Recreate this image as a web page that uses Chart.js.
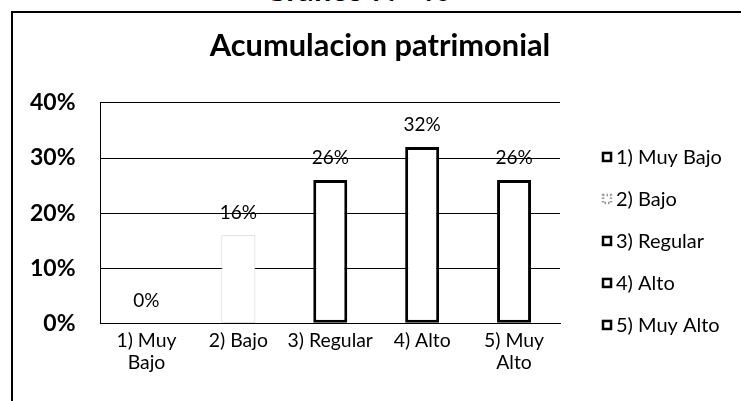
<!DOCTYPE html>
<html>
<head>
<meta charset="utf-8">
<script src="https://cdn.jsdelivr.net/npm/chart.js@4.4.1/dist/chart.umd.min.js"></script>
<style>
  html, body { margin: 0; padding: 0; background: #fff; }
  #wrap { position: relative; width: 741px; height: 401px; overflow: hidden; }
  #frame { position: absolute; left: 11px; top: 11px; width: 760px; height: 420px;
           border-left: 2px solid #000; border-top: 2px solid #000; }
  #num { position: absolute; top: -26px; left: 238px; width: 240px; text-align: center;
         font: bold 31px Lato, sans-serif; line-height: 31px; color: #000; }
  #myChart { position: absolute; left: 0; top: 0; }
</style>
</head>
<body>
<div id="wrap">
  <div id="num">Gráfico N° 40</div>
  <div id="frame"></div>
  <canvas id="myChart" width="741" height="401"></canvas>
</div>
<script>
const categories = ['1) Muy Bajo', '2) Bajo', '3) Regular', '4) Alto', '5) Muy Alto'];
const tickLines = [['1) Muy', 'Bajo'], ['2) Bajo'], ['3) Regular'], ['4) Alto'], ['5) Muy', 'Alto']];
const values = [0, 16, 26, 32, 26];
const yMax = 40;
const yStep = 10;

Chart.defaults.font.family = 'Lato, sans-serif';
Chart.defaults.color = '#000';

// % labels above the bars
const barLabels = {
  id: 'barLabels',
  afterDatasetsDraw(chart) {
    const ctx = chart.ctx;
    const meta = chart.getDatasetMeta(0);
    ctx.save();
    ctx.font = '19px Lato, sans-serif';
    ctx.fillStyle = '#000';
    ctx.textAlign = 'center';
    ctx.textBaseline = 'middle';
    meta.data.forEach((bar, i) => {
      ctx.fillText(values[i] + '%', bar.x, bar.y - 22);
    });
    ctx.restore();
  }
};

// legend with one entry per category, like excel does
const sideLegend = {
  id: 'sideLegend',
  afterDraw(chart) {
    const ctx = chart.ctx;
    const area = chart.chartArea;
    ctx.save();
    ctx.font = '20px Lato, sans-serif';
    ctx.textBaseline = 'middle';
    ctx.fillStyle = '#000';
    categories.forEach((name, i) => {
      const x = area.right + 42;
      const y = area.top + 54 + i * 42;
      ctx.lineWidth = 2.5;
      if (i === 1) {
        ctx.strokeStyle = '#999';
        ctx.setLineDash([1.5, 2]);
      } else {
        ctx.strokeStyle = '#000';
        ctx.setLineDash([]);
      }
      ctx.strokeRect(x + 1, y - 4, 8, 8);
      ctx.setLineDash([]);
      ctx.fillText(name, x + 14, y + 1);
    });
    ctx.restore();
  }
};

const ctx = document.getElementById('myChart');

new Chart(ctx, {
  type: 'bar',
  data: {
    labels: tickLines,
    datasets: [{
      label: 'Acumulacion patrimonial',
      data: values,
      backgroundColor: '#fff',
      borderColor: ['#000', '#cfcfcf', '#000', '#000', '#000'],
      borderWidth: [3, 1, 3, 3, 3],
      borderSkipped: false,
      categoryPercentage: 1,
      barPercentage: 0.37
    }]
  },
  options: {
    responsive: false,
    animation: false,
    // right padding < 0 so the title sits centred like in the original
    layout: { padding: { left: 5, right: -14, top: 20, bottom: 21 } },
    plugins: {
      legend: { display: false },
      tooltip: { enabled: false },
      title: {
        display: true,
        text: 'Acumulacion patrimonial',
        font: { size: 30.8, weight: 'bold' },
        color: '#000',
        padding: { top: 8, bottom: 38 }
      }
    },
    scales: {
      x: {
        grid: { display: false, drawTicks: false },
        border: { display: true, color: '#000', width: 1 },
        ticks: { font: { size: 19.4, lineHeight: 1.1 }, padding: 7, maxRotation: 0 }
      },
      y: {
        min: 0,
        max: yMax,
        grid: { color: '#000', lineWidth: 1, drawTicks: false },
        border: { display: true, color: '#000', width: 1 },
        ticks: {
          stepSize: yStep,
          padding: 25,
          font: { size: 23, weight: 'bold' },
          callback: v => v + '%'
        }
      },
      // empty space on the right for the legend
      legendSpace: {
        position: 'right',
        grid: { display: false, drawTicks: false },
        border: { display: false },
        ticks: { display: false },
        afterFit(scale) { scale.width = 195; }
      }
    }
  },
  plugins: [barLabels, sideLegend]
});
</script>
</body>
</html>
